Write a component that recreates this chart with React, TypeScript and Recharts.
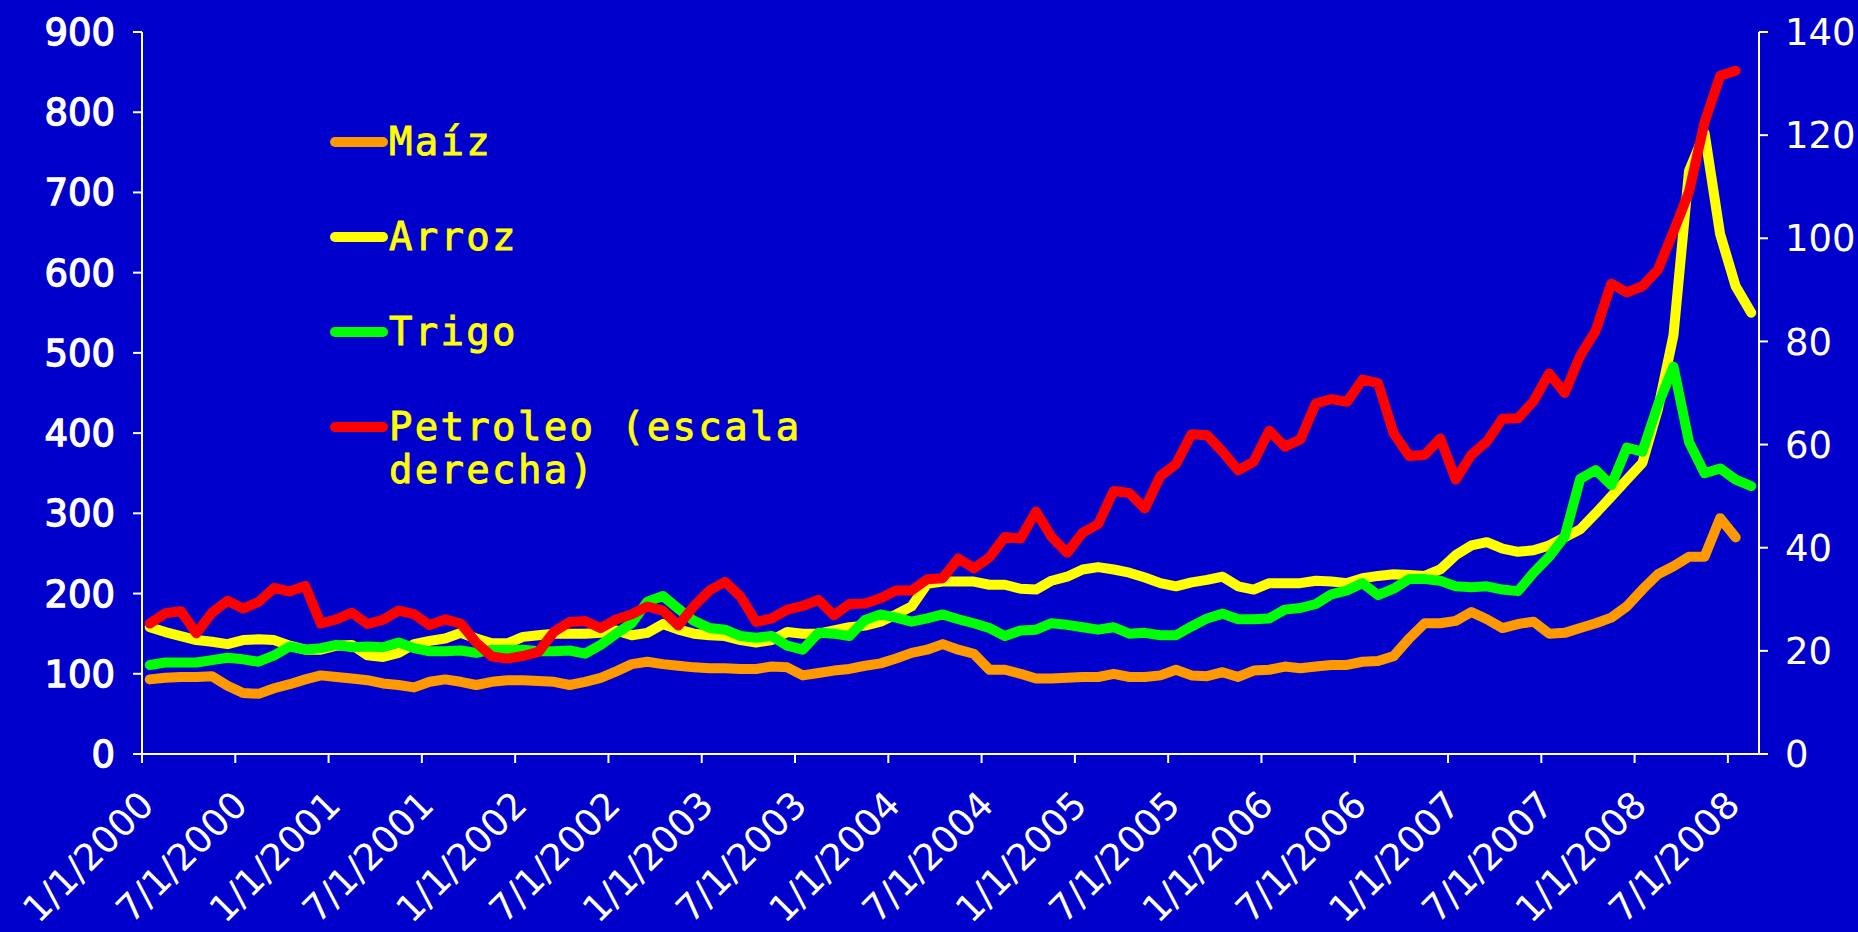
import { CartesianGrid, Line, LineChart, XAxis, YAxis } from "recharts";

// monthly prices, Jan 2000 .. Aug 2008
const maiz = [
  93, 95, 96, 96, 97, 85, 76, 75, 82, 87,
  93, 98, 96, 94, 92, 88, 86, 83, 90, 93,
  90, 86, 90, 92, 92, 91, 90, 86, 90, 95,
  103, 112, 115, 112, 110, 108, 107, 107, 106, 106,
  109, 108, 98, 101, 104, 106, 110, 113, 119, 126,
  130, 137, 130, 125, 105, 105, 100, 94, 94, 95,
  96, 96, 100, 96, 96, 98, 105, 98, 97, 102,
  96, 104, 105, 109, 107, 109, 111, 111, 115, 116,
  122, 144, 163, 163, 166, 177, 168, 157, 162, 165,
  150, 151, 157, 163, 170, 184, 205, 224, 234, 246,
  246, 294, 270,
];

const arroz = [
  158, 152, 147, 142, 140, 137, 142, 143, 142, 135,
  130, 130, 135, 136, 123, 121, 126, 137, 141, 144,
  151, 144, 138, 138, 146, 148, 150, 150, 150, 151,
  154, 148, 151, 162, 155, 150, 148, 147, 142, 139,
  142, 152, 150, 150, 154, 158, 160, 165, 174, 184,
  212, 215, 215, 215, 211, 211, 206, 205, 216, 221,
  230, 233, 230, 226, 220, 213, 209, 214, 217, 221,
  209, 205, 213, 213, 213, 216, 215, 213, 219, 222,
  224, 223, 222, 230, 248, 260, 264, 256, 252, 254,
  260, 270, 280, 300, 321, 342, 363, 430, 522, 727,
  774, 648, 583, 550,
];

const trigo = [
  111, 114, 114, 114, 117, 120, 118, 115, 123, 134,
  130, 132, 136, 133, 134, 133, 139, 132, 128, 128,
  129, 126, 130, 130, 130, 128, 128, 129, 125, 136,
  150, 163, 190, 197, 181, 166, 157, 155, 147, 145,
  147, 135, 130, 151, 150, 147, 167, 174, 170, 165,
  169, 174, 168, 163, 157, 147, 154, 155, 163, 161,
  158, 155, 158, 150, 151, 148, 148, 159, 169, 175,
  168, 168, 169, 180, 182, 187, 199, 204, 213, 198,
  206, 218, 218, 216, 209, 208, 209, 205, 203, 226,
  246, 271, 343, 354, 335, 382, 377, 435, 483, 389,
  350, 356, 342, 334,
];

// right scale
const petroleo = [
  25.3, 27.3, 27.7, 23.4, 27.4, 29.7, 28.2, 29.5, 32.2, 31.5,
  32.6, 25.3, 26.1, 27.4, 25.2, 26.0, 27.8, 27.1, 25.0, 26.1,
  25.3, 21.6, 18.9, 18.5, 19.0, 19.8, 23.7, 25.6, 25.8, 24.4,
  26.1, 27.1, 28.6, 27.8, 24.9, 28.7, 31.7, 33.4, 30.5, 25.6,
  26.3, 28.0, 28.7, 29.9, 26.9, 29.1, 29.2, 30.2, 31.7, 31.7,
  33.9, 34.1, 37.9, 36.0, 38.1, 42.1, 41.8, 47.0, 42.1, 39.0,
  42.9, 44.6, 51.0, 50.6, 47.6, 53.9, 56.2, 62.0, 61.8, 58.6,
  55.0, 56.7, 62.7, 59.6, 61.0, 68.0, 68.8, 68.3, 72.6, 71.9,
  62.2, 57.8, 58.0, 61.2, 53.2, 58.0, 60.6, 65.0, 65.1, 68.4,
  73.8, 70.0, 77.2, 82.1, 91.2, 89.5, 90.7, 93.9, 101.3, 109.0,
  122.5, 131.5, 132.5,
];

const tickLabels = [
  "1/1/2000", "7/1/2000", "1/1/2001", "7/1/2001", "1/1/2002", "7/1/2002",
  "1/1/2003", "7/1/2003", "1/1/2004", "7/1/2004", "1/1/2005", "7/1/2005",
  "1/1/2006", "7/1/2006", "1/1/2007", "7/1/2007", "1/1/2008", "7/1/2008",
];
const leftTicks = [0, 100, 200, 300, 400, 500, 600, 700, 800, 900];
const rightTicks = [0, 20, 40, 60, 80, 100, 120, 140];

const series = [
  { key: "maiz", name: ["Maíz"], color: "#ff9900", axis: "left" },
  { key: "arroz", name: ["Arroz"], color: "#ffff00", axis: "left" },
  { key: "trigo", name: ["Trigo"], color: "#00ff00", axis: "left" },
  { key: "petroleo", name: ["Petroleo (escala", "derecha)"], color: "#ff0000", axis: "right" },
];

const NUM_MONTHS = 104;
// each month is plotted at the middle of its slot, ticks sit on the 1st of the month
const data = arroz.map((_, i) => ({
  x: i + 0.5,
  maiz: maiz[i] ?? null,
  arroz: arroz[i] ?? null,
  trigo: trigo[i] ?? null,
  petroleo: petroleo[i] ?? null,
}));
const monthTicks = tickLabels.map((_, k) => k * 6);

const BG = "#0000cc";
const AXIS_FONT = "'DejaVu Sans', Verdana, sans-serif";

function DateTick(props: any) {
  const { x, y, payload } = props;
  const label = tickLabels[Math.round(payload.value / 6)];
  return (
    <g transform={`translate(${x + 14},${y + 42}) rotate(-45)`}>
      <text x={0} y={0} textAnchor="end" fill="#ffffff" fontSize={37} fontFamily={AXIS_FONT}>
        {label}
      </text>
    </g>
  );
}

// left scale labels are a bit heavier in the original
function LeftTick(props: any) {
  const { x, y, payload } = props;
  return (
    <text
      x={x}
      y={y}
      dy={13}
      textAnchor="end"
      fill="#ffffff"
      stroke="#ffffff"
      strokeWidth={1.3}
      fontSize={37}
      fontFamily={AXIS_FONT}
    >
      {payload.value}
    </text>
  );
}

function LegendBox() {
  const rows = [142, 237, 332, 427];
  return (
    <svg width={1858} height={932} style={{ position: "absolute", left: 0, top: 0, pointerEvents: "none" }}>
      {series.map((s, i) => (
        <g key={s.key}>
          <line x1={335} x2={383} y1={rows[i]} y2={rows[i]} stroke={s.color} strokeWidth={10} strokeLinecap="round" />
          {s.name.map((t, j) => (
            <text
              key={t}
              x={389}
              y={rows[i] + 13 + j * 43}
              fill="#ffff00"
              stroke="#ffff00"
              strokeWidth={0.9}
              fontSize={39}
              letterSpacing={2.3}
              fontFamily="'DejaVu Sans Mono', monospace"
            >
              {t}
            </text>
          ))}
        </g>
      ))}
    </svg>
  );
}

export default function App() {
  return (
    <div style={{ position: "absolute", left: 0, top: 0, width: 1858, height: 932, background: BG }}>
      <LineChart width={1858} height={932} data={data} margin={{ top: 32, right: 0, bottom: 0, left: 42 }}>
        <CartesianGrid stroke="none" />
        <XAxis
          dataKey="x"
          type="number"
          domain={[0, NUM_MONTHS]}
          ticks={monthTicks}
          interval={0}
          height={178}
          stroke="#ffffff"
          strokeWidth={2}
          tickSize={9}
          tickLine={{ stroke: "#ffffff", strokeWidth: 2 }}
          tick={<DateTick />}
        />
        <YAxis
          yAxisId="left"
          domain={[0, 900]}
          ticks={leftTicks}
          interval={0}
          width={100}
          stroke="#ffffff"
          strokeWidth={2}
          tickSize={9}
          tickMargin={18}
          tick={<LeftTick />}
        />
        <YAxis
          yAxisId="right"
          orientation="right"
          domain={[0, 140]}
          ticks={rightTicks}
          interval={0}
          width={99}
          stroke="#ffffff"
          strokeWidth={2}
          tickSize={9}
          tickMargin={17}
          tick={{ fill: "#ffffff", fontSize: 37, fontFamily: AXIS_FONT }}
        />
        {series.map((s) => (
          <Line
            key={s.key}
            yAxisId={s.axis}
            type="linear"
            dataKey={s.key}
            stroke={s.color}
            strokeWidth={10}
            strokeLinecap="round"
            strokeLinejoin="round"
            dot={false}
            activeDot={false}
            isAnimationActive={false}
          />
        ))}
      </LineChart>
      <LegendBox />
    </div>
  );
}
